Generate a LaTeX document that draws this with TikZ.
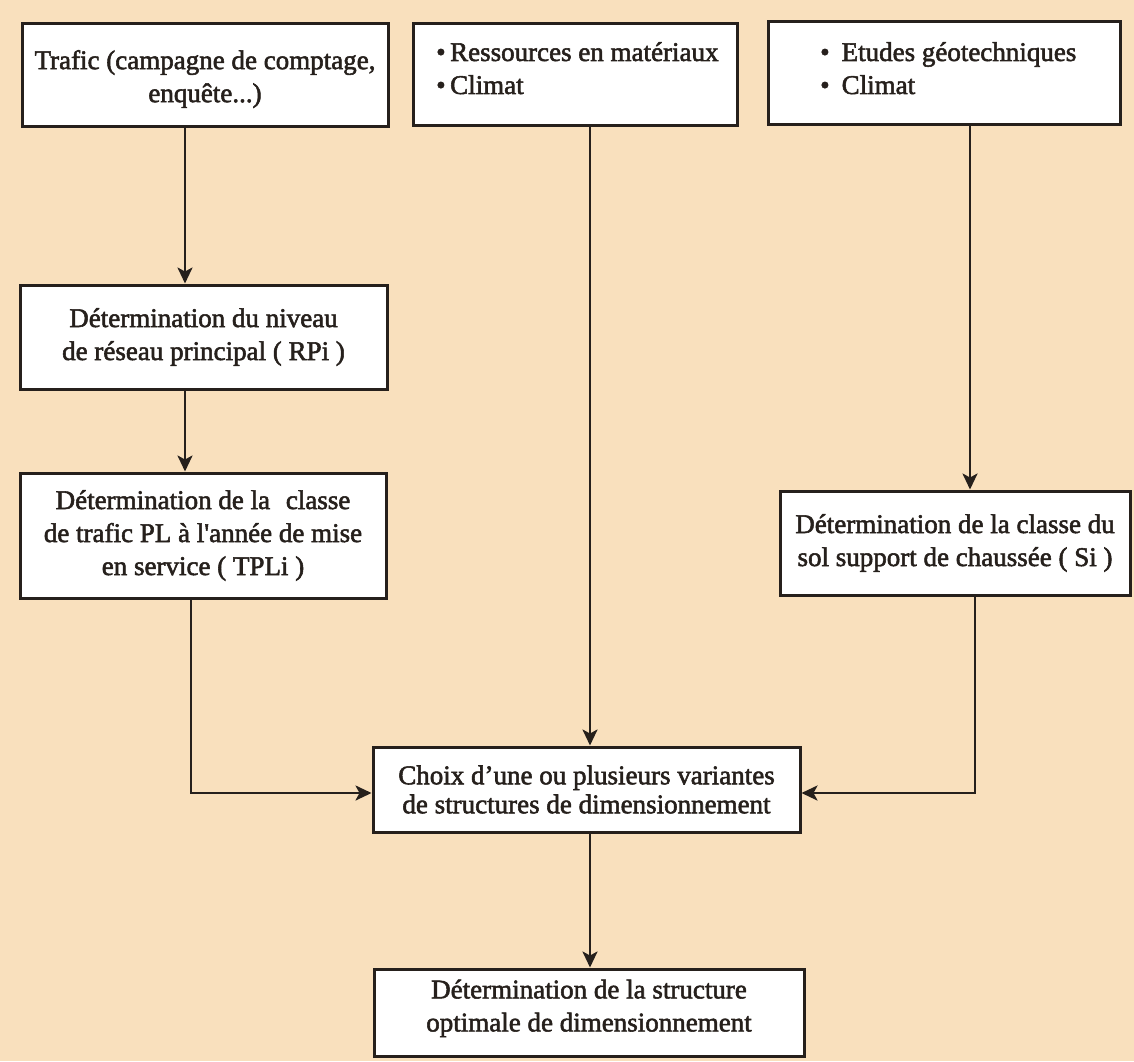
\documentclass[tikz,border=0pt]{standalone}
\usepackage{fontspec}
\setmainfont{Liberation Serif}
\newfontfamily\boxfont{Liberation Serif}[FakeBold=2]
\usetikzlibrary{arrows.meta,calc}
\definecolor{paper}{RGB}{249,224,189}
\definecolor{ink}{RGB}{38,32,28}
\tikzset{
  box/.style={draw=ink, fill=white, line width=3pt, inner sep=0pt, align=center,
    font=\boxfont\fontsize{27}{33}\selectfont, text=ink},
  txt/.style={inner sep=0pt, align=left, font=\boxfont\fontsize{27}{33}\selectfont, text=ink},
  arr/.style={draw=ink, line width=2.6pt, -{Stealth[length=16pt,width=15pt,inset=4pt]}},
}
\begin{document}
\begin{tikzpicture}[x=1pt,y=-1pt]
\fill[paper] (0,0) rectangle (1134,1061);
\useasboundingbox (0,0) rectangle (1134,1061);

\node[box, minimum width=366pt, minimum height=103pt] (b1) at (205,74.5)
  {\rule{0pt}{28pt}Trafic (campagne de comptage,\\enquête...)};
\node[box, minimum width=324pt, minimum height=102pt] (b2) at (575,74) {};
\node[txt, anchor=north west] (b2t) at (436,42)
  {\textbullet\,Ressources en matériaux\\\textbullet\,Climat};
\node[box, minimum width=352pt, minimum height=103pt] (b3) at (944,72.5) {};
\node[txt, anchor=north west] (b3t) at (820,42)
  {\textbullet\hspace{12pt}Etudes géotechniques\\\textbullet\hspace{12pt}Climat};

\node[box, minimum width=367pt, minimum height=104pt] (rpi) at (203.5,337)
  {Détermination du niveau\\de réseau principal ( RPi )};
\node[box, minimum width=366pt, minimum height=125pt] (tpli) at (203,535.5)
  {Détermination de la\,\, classe\\de trafic PL à l'année de mise\\en service ( TPLi )};
\node[box, minimum width=350pt, minimum height=104pt] (si) at (955,543)
  {Détermination de la classe du\\sol support de chaussée ( Si )};

\node[box, minimum width=427pt, minimum height=85pt,
  font=\boxfont\fontsize{27}{29}\selectfont] (choix) at (586.5,789.5)
  {Choix d’une ou plusieurs variantes\\de structures de dimensionnement};
\node[box, minimum width=430pt, minimum height=87pt] (fin) at (589,1012.5)
  {Détermination de la structure\\optimale de dimensionnement\rule[-14pt]{0pt}{1pt}};

\draw[arr] ([xshift=-20pt]b1.south) -- ([xshift=-20pt]b1.south |- rpi.north);
\draw[arr] ([xshift=-18.5pt]rpi.south) -- ([xshift=-18.5pt]rpi.south |- tpli.north);
\draw[arr] ([xshift=-12pt]tpli.south) |- ([yshift=-3.5pt]choix.west);
\draw[arr] ([xshift=15pt]b2.south) -- ([xshift=15pt]b2.south |- choix.north);
\draw[arr] ([xshift=26pt]b3.south) -- ([xshift=26pt]b3.south |- si.north);
\draw[arr] ([xshift=20pt]si.south) |- ([yshift=-3.5pt]choix.east);
\draw[arr] ([xshift=3.5pt]choix.south) -- ([xshift=3.5pt]choix.south |- fin.north);
\end{tikzpicture}
\end{document}
